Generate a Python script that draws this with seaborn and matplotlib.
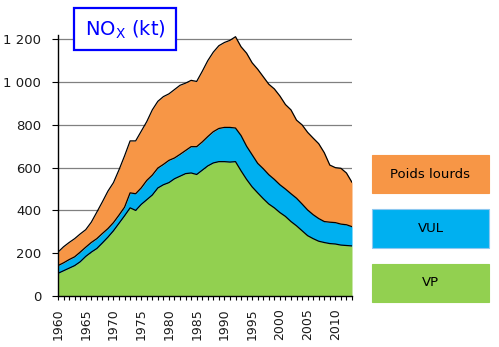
import numpy as np
import pandas as pd
import matplotlib
matplotlib.use("Agg")
import matplotlib.pyplot as plt
import seaborn as sns
from matplotlib.patches import Rectangle

years = list(range(1960, 2014))
vp = [106, 118, 130, 142, 160, 185, 205, 222, 248, 275,
      305, 340, 375, 412, 400, 428, 450, 472, 505, 520,
      530, 548, 560, 572, 575, 568, 588, 608, 622, 628,
      628, 626, 628, 585, 545, 510, 482, 455, 430, 412,
      390, 372, 348, 328, 305, 282, 268, 256, 250, 245,
      243, 238, 236, 234]
vul = [36, 37, 40, 41, 45, 43, 45, 46, 44, 40,
       38, 38, 40, 70, 78, 77, 90, 93, 93, 95,
       104, 97, 102, 108, 123, 130, 132, 137, 146, 155,
       160, 162, 157, 165, 155, 150, 138, 140, 137, 133,
       130, 128, 130, 129, 125, 120, 112, 106, 98, 100,
       100, 98, 97, 90]
pl = [63, 75, 80, 85, 85, 82, 95, 124, 148, 175,
      187, 212, 240, 243, 247, 265, 275, 305, 312, 317,
      311, 320, 323, 315, 310, 305, 330, 355, 372, 387,
      397, 407, 427, 415, 435, 430, 440, 430, 423, 423,
      415, 395, 392, 365, 370, 363, 358, 350, 322, 267,
      257, 261, 242, 207]
series_names = ["VP", "VUL", "Poids lourds"]
colors = ["#92D050", "#00B0F0", "#F79646"]
y_ticks = [0, 200, 400, 600, 800, 1000, 1200]
y_labels = ["0", "200", "400", "600", "800", "1 000", "1 200"]
x_label_years = list(range(1960, 2011, 5))

sns.set_style("white")
plt.rcParams["font.family"] = ["DejaVu Sans"]

W, H = 499, 347
fig = plt.figure(figsize=(W / 100, H / 100), dpi=100)
ax = fig.add_axes([58 / W, 1 - 296 / H, (352 - 58) / W, (296 - 35) / H])

df = pd.DataFrame({"year": years, "VP": vp, "VUL": vul, "Poids lourds": pl})
df["c1"] = df["VP"]
df["c2"] = df["c1"] + df["VUL"]
df["c3"] = df["c2"] + df["Poids lourds"]

for yv in y_ticks[1:]:
    ax.axhline(yv, color="#808080", lw=0.9, zorder=0)

lower = np.zeros(len(years))
for col, c in zip(["c1", "c2", "c3"], colors):
    ax.fill_between(df["year"], lower, df[col], color=c, lw=0, zorder=2)
    lower = df[col].values
for col in ["c1", "c2", "c3"]:
    sns.lineplot(data=df, x="year", y=col, ax=ax, color="black", lw=0.9, zorder=3)

ax.set_xlim(1960, 2013)
ax.set_ylim(0, 1220)
ax.set_xlabel("")
ax.set_ylabel("")
for s in ["top", "right"]:
    ax.spines[s].set_visible(False)
for s in ["left", "bottom"]:
    ax.spines[s].set_color("black")
    ax.spines[s].set_linewidth(1.0)

ax.set_yticks(y_ticks)
ax.set_yticklabels(y_labels, fontsize=9.5, color="#1a1a1a")
ax.set_xticks(years)
ax.set_xticklabels([str(y) if y in x_label_years else "" for y in years],
                   rotation=90, fontsize=9, color="#1a1a1a")
ax.tick_params(axis="x", direction="out", length=3, width=0.8, pad=6, color="black")
ax.tick_params(axis="y", direction="out", length=4, width=0.8, pad=8, color="black")
ax.tick_params(left=True, bottom=True)

def box(x0, y0, x1, y1, fc, ec, lw):
    r = Rectangle((x0 / W, 1 - y1 / H), (x1 - x0) / W, (y1 - y0) / H,
                  transform=fig.transFigure, facecolor=fc, edgecolor=ec, lw=lw)
    fig.patches.append(r)

# legend boxes
leg = [("Poids lourds", colors[2], 155, 193, "#F79646"),
       ("VUL", colors[1], 209, 248, "#8DC8F0"),
       ("VP", colors[0], 264, 302, "#92D050")]
for name, c, y0, y1, ec in leg:
    box(372, y0, 489, y1, c, ec, 0.8)
    fig.text((372 + 489) / 2 / W, 1 - (y0 + y1) / 2 / H, name,
             ha="center", va="center", fontsize=9.5, color="black")

# title box
box(74, 8, 176, 50, "white", "#0000FF", 1.6)
fig.text(125 / W, 1 - 30 / H, r"NO$_\mathregular{X}$ (kt)", ha="center", va="center",
         fontsize=14, color="#0000FF")

fig.savefig("out.png", dpi=100)
